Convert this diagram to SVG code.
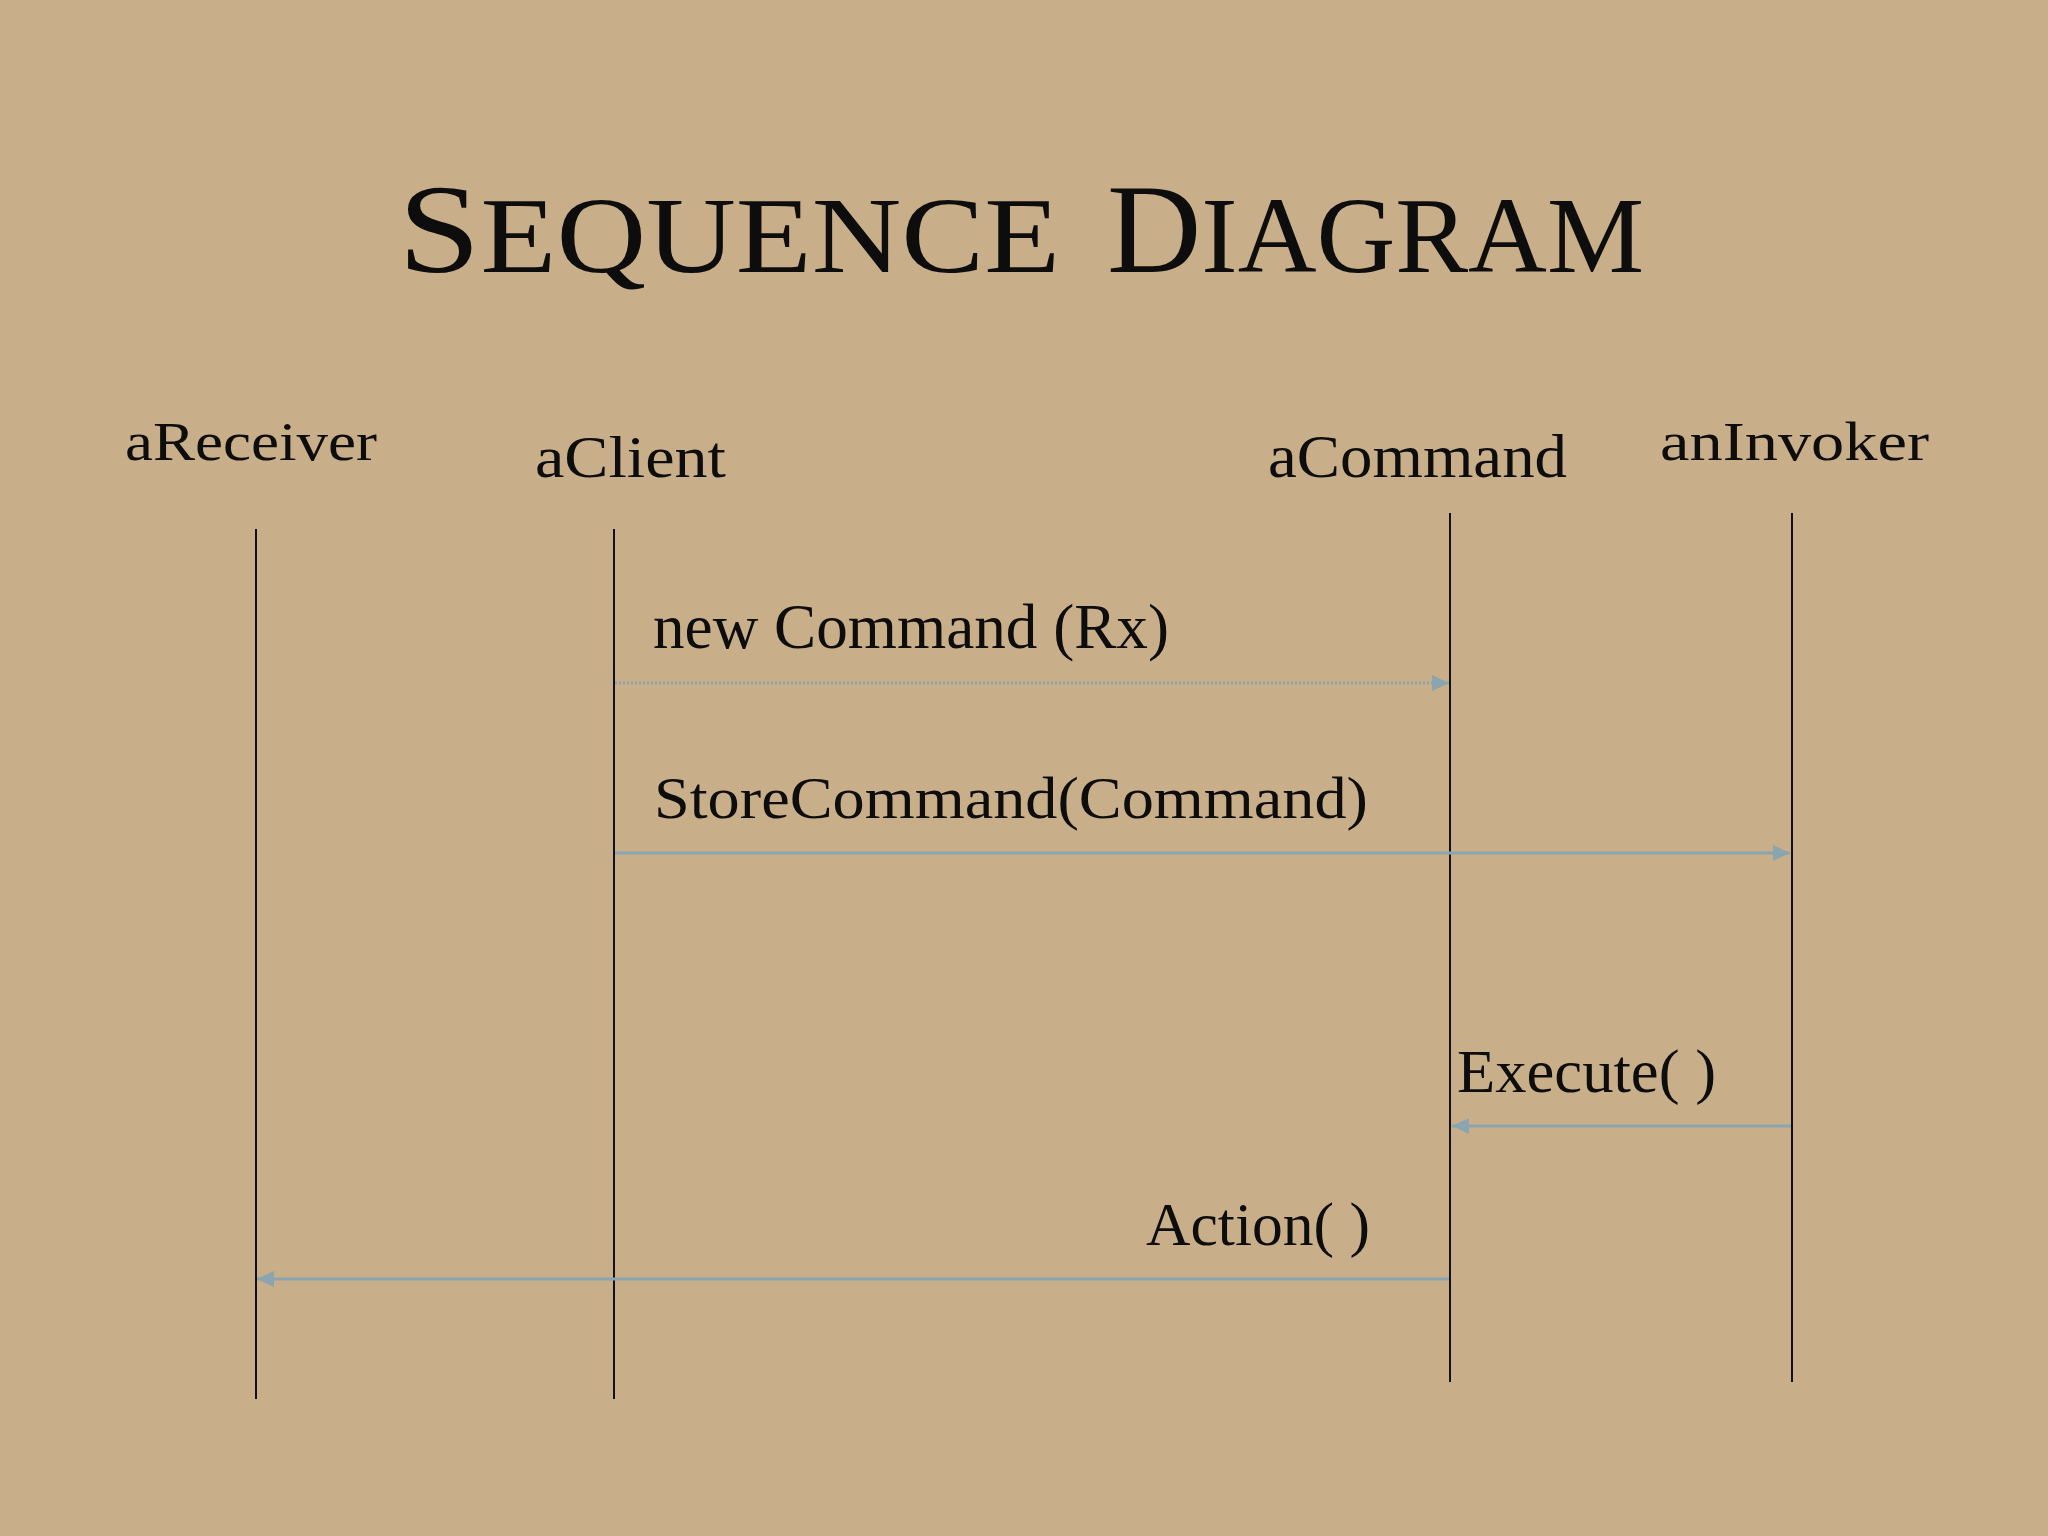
<svg xmlns="http://www.w3.org/2000/svg" width="2048" height="1536" viewBox="0 0 2048 1536">
  <style>
    .t { font-family: "Liberation Serif", "DejaVu Serif", serif; fill: #0d0d0d; }
    .life { stroke: #111; stroke-width: 2; fill: none; }
    .msg { stroke: #8aa4b0; stroke-width: 3; fill: none; marker-end: url(#arr); }
    .dot { stroke-dasharray: 2 2; }
  </style>
  <defs>
    <marker id="arr" markerUnits="userSpaceOnUse" markerWidth="17" markerHeight="16" refX="17" refY="8" orient="auto">
      <path d="M0,0 L17,8 L0,16 z" fill="#8aa4b0"/>
    </marker>
  </defs>
  <rect width="2048" height="1536" fill="#c9ae8a"/>

  <g id="title">
    <text class="t" x="398" y="272" textLength="662" lengthAdjust="spacingAndGlyphs"><tspan font-size="128">S</tspan><tspan font-size="107">EQUENCE</tspan></text>
    <text class="t" x="1107" y="272" textLength="537" lengthAdjust="spacingAndGlyphs"><tspan font-size="128">D</tspan><tspan font-size="107">IAGRAM</tspan></text>
  </g>

  <g id="aReceiver">
    <text class="t" x="125" y="460" font-size="55" textLength="252" lengthAdjust="spacingAndGlyphs">aReceiver</text>
    <line class="life" x1="256" y1="529" x2="256" y2="1399"/>
  </g>
  <g id="aClient">
    <text class="t" x="535" y="477" font-size="60" textLength="191" lengthAdjust="spacingAndGlyphs">aClient</text>
    <line class="life" x1="614" y1="529" x2="614" y2="1399"/>
  </g>
  <g id="aCommand">
    <text class="t" x="1268" y="477" font-size="62" textLength="299" lengthAdjust="spacingAndGlyphs">aCommand</text>
    <line class="life" x1="1450" y1="513" x2="1450" y2="1382"/>
  </g>
  <g id="anInvoker">
    <text class="t" x="1660" y="460" font-size="55" textLength="269" lengthAdjust="spacingAndGlyphs">anInvoker</text>
    <line class="life" x1="1792" y1="513" x2="1792" y2="1382"/>
  </g>

  <g id="connectors">
    <path class="msg dot" d="M615,683 H1449"/>
    <path class="msg" d="M615,853 H1790"/>
    <path class="msg" d="M1791,1126 H1452"/>
    <path class="msg" d="M1449,1279 H257"/>
  </g>

  <g id="labels">
    <text class="t" x="653" y="648" font-size="64" textLength="516" lengthAdjust="spacingAndGlyphs">new Command (Rx)</text>
    <text class="t" x="654" y="818" font-size="60" textLength="714" lengthAdjust="spacingAndGlyphs">StoreCommand(Command)</text>
    <text class="t" x="1457" y="1092" font-size="62" textLength="259" lengthAdjust="spacingAndGlyphs">Execute( )</text>
    <text class="t" x="1146" y="1245" font-size="62" textLength="224" lengthAdjust="spacingAndGlyphs">Action( )</text>
  </g>
</svg>
